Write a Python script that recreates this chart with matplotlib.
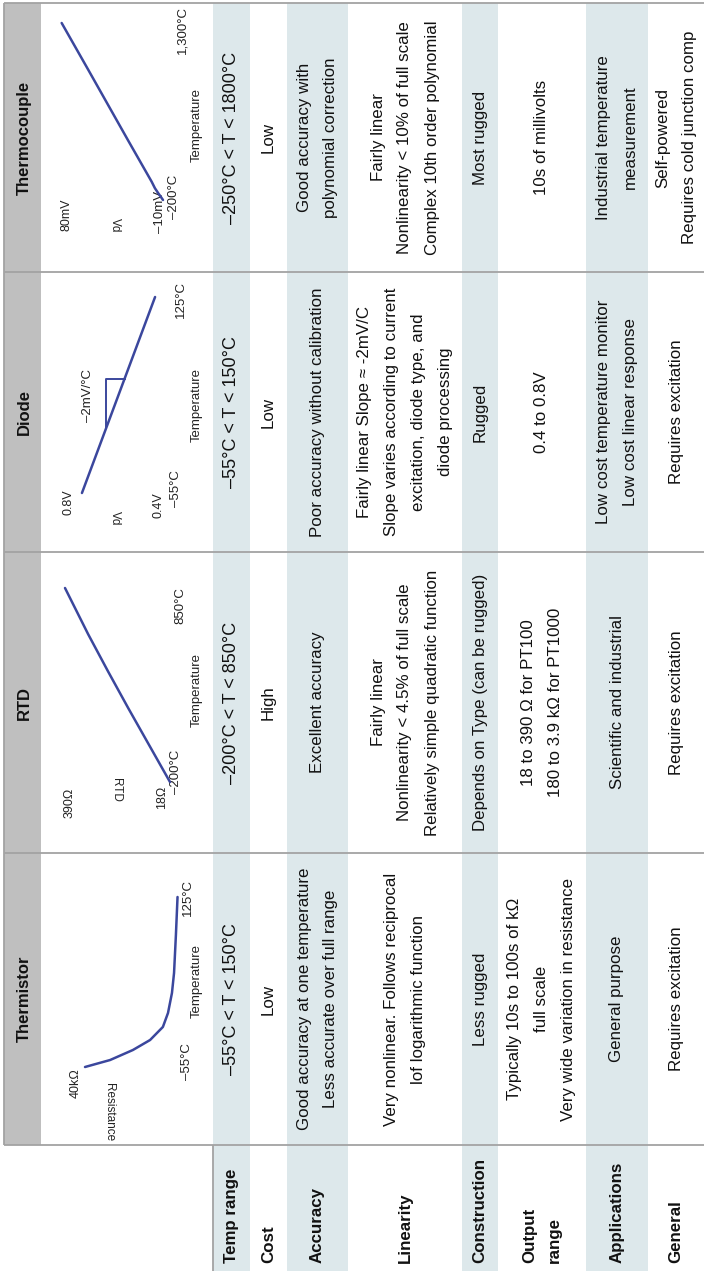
import matplotlib
matplotlib.use("Agg")
import matplotlib.pyplot as plt
from matplotlib.patches import Rectangle
import numpy as np

# ---------------- data ----------------
sensors = ["Thermistor", "RTD", "Diode", "Thermocouple"]
row_labels = ["Temp range", "Cost", "Accuracy", "Linearity", "Construction",
              "Output\nrange", "Applications", "General"]

temp_range = ["–55°C < T < 150°C", "–200°C < T < 850°C",
              "–55°C < T < 150°C", "–250°C < T < 1800°C"]
cost = ["Low", "High", "Low", "Low"]
accuracy = ["Good accuracy at one temperature\nLess accurate over full range",
            "Excellent accuracy",
            "Poor accuracy without calibration",
            "Good accuracy with\npolynomial correction"]
linearity = ["Very nonlinear. Follows reciprocal\nlof logarithmic function",
             "Fairly linear\nNonlinearity < 4.5% of full scale\nRelatively simple quadratic function",
             "Fairly linear Slope ≈ -2mV/C\nSlope varies according to current\nexcitation, diode type, and\ndiode processing",
             "Fairly linear\nNonlinearity < 10% of full scale\nComplex 10th order polynomial"]
construction = ["Less rugged", "Depends on Type (can be rugged)", "Rugged", "Most rugged"]
output_range = ["Typically 10s to 100s of kΩ\nfull scale\nVery wide variation in resistance",
                "18 to 390 Ω for PT100\n180 to 3.9 kΩ for PT1000",
                "0.4 to 0.8V",
                "10s of millivolts"]
applications = ["General purpose", "Scientific and industrial",
                "Low cost temperature monitor\nLow cost linear response",
                "Industrial temperature\nmeasurement"]
general = ["Requires excitation", "Requires excitation", "Requires excitation",
           "Self-powered\nRequires cold junction comp"]
table_rows = [temp_range, cost, accuracy, linearity, construction,
              output_range, applications, general]

# mini-graph curves
thermistor_temp = [-55, -47.6, -37, -26.4, -12.6, 2.2, 23.4, 44.6, 84.8, 125]
thermistor_res = [40, 29.2, 19.4, 12.0, 6.5, 4.3, 2.6, 1.7, 0.9, 0.2]   # kOhm

rtd_temp = [-200, 0, 200, 400, 600, 850]
rtd_res = [18, 92, 166, 238, 308, 390]                                   # Ohm

diode_temp = [-55, 125]
diode_vd = [0.738, 0.413]                                                # V
diode_slope_temp = [5, 50]

tc_temp = [-200, -175, -143, -100, -45, 300, 600, 900, 1300]
tc_mv = [-10, -8.2, -5.8, -2.8, 0.1, 20.8, 38.6, 56.4, 80.3]             # mV

# ---------------- layout ----------------
W, H = 704, 1271
BLUE_ROW = "#dde8eb"
GRAY_HDR = "#bfbfbf"
RULE = "#a3a3a3"
LINE = "#3b479d"
FONT = ["Liberation Sans", "DejaVu Sans"]

col_span = {"Thermistor": (853, 1145), "RTD": (552, 853),
            "Diode": (272, 552), "Thermocouple": (3, 272)}
label_col = (1145, 1271)
row_edges = [213, 250, 287, 348, 462, 498, 586, 648, 704]

fig = plt.figure(figsize=(W / 100, H / 100), dpi=100)
ax = fig.add_axes([0, 0, 1, 1])
ax.set_xlim(0, W)
ax.set_ylim(H, 0)
ax.axis("off")

# row bands
for i in range(len(row_labels)):
    if i % 2 == 0:
        ax.add_patch(Rectangle((row_edges[i], 3), row_edges[i + 1] - row_edges[i], H - 3,
                               facecolor=BLUE_ROW, edgecolor="none", zorder=0))
# header gray band
ax.add_patch(Rectangle((4, 3), 37, label_col[0] - 3, facecolor=GRAY_HDR,
                       edgecolor="none", zorder=0))

# rules
rk = dict(color=RULE, lw=1.3, zorder=1, solid_capstyle="butt")
ax.plot([4, W], [3, 3], **rk)
ax.plot([4, 4], [3, label_col[0]], **rk)
for s in sensors:
    ax.plot([4, W], [col_span[s][1], col_span[s][1]], **rk)
ax.plot([row_edges[0], row_edges[0]], [label_col[0], H], **rk)

PITCH = 27

def multiline(xc, yc, text, size, weight="normal", va="center", pitch=PITCH):
    lines = text.split("\n")
    n = len(lines)
    for k, ln in enumerate(lines):
        x = xc + (k - (n - 1) / 2) * pitch
        ax.text(x, yc, ln, rotation=90, ha="center", va=va, fontsize=size,
                fontweight=weight, family=FONT, color="#111111", zorder=3)

# header titles
for s in sensors:
    y0, y1 = col_span[s]
    ax.text(24, (y0 + y1) / 2, s, rotation=90, ha="center", va="center",
            fontsize=12, fontweight="bold", family=FONT, color="#111111", zorder=3)

# row labels
for i, lab in enumerate(row_labels):
    xc = (row_edges[i] + row_edges[i + 1]) / 2
    multiline(xc, 1263, lab, 12.2, weight="bold", va="bottom", pitch=25)

# cells
for i, row in enumerate(table_rows):
    xc = (row_edges[i] + row_edges[i + 1]) / 2
    size = 13 if i == 0 else 12.2
    for j, s in enumerate(sensors):
        y0, y1 = col_span[s]
        multiline(xc, (y0 + y1) / 2, row[j], size)

# ---------------- mini graphs ----------------
def inset(x_left, x_right, y_top, y_bottom, vlim, tlim):
    a = fig.add_axes([x_left / W, 1 - y_bottom / H,
                      (x_right - x_left) / W, (y_bottom - y_top) / H])
    a.set_xlim(*vlim)
    a.set_ylim(*tlim)
    a.axis("off")
    a.patch.set_alpha(0)
    return a

lk = dict(color=LINE, lw=1.8, clip_on=False, solid_capstyle="round",
          solid_joinstyle="round")

a1 = inset(85, 178, 897, 1067, (40, 0), (-55, 125))
a1.plot(thermistor_res, thermistor_temp, **lk)

a2 = inset(65, 170, 588, 782, (390, 18), (-200, 850))
a2.plot(rtd_res, rtd_temp, **lk)

a3 = inset(68, 158, 297, 493, (0.8, 0.4), (-55, 125))
a3.plot(diode_vd, diode_temp, **lk)
v1, v2 = np.interp(diode_slope_temp, diode_temp, diode_vd)
t1, t2 = diode_slope_temp
a3.plot([v1, v1, v2], [t1, t2, t2], color=LINE, lw=1.4, clip_on=False)

a4 = inset(62, 163, 23, 200, (80, -10), (-200, 1300))
a4.plot(tc_mv, tc_temp, **lk)

# graph annotations (x, y, text, rotation, size)
graph_labels = [
    (76, 1083, "40kΩ", 90, 9), (109, 1112, "Resistance", 270, 8.5),
    (187, 1062, "–55°C", 90, 9.5), (197, 981, "Temperature", 90, 9.5),
    (188, 898, "125°C", 90, 9.5),
    (70, 803, "390Ω", 90, 9), (116, 790, "RTD", 270, 8.5),
    (162, 797, "18Ω", 90, 9), (176, 772, "–200°C", 90, 9.5),
    (197, 690, "Temperature", 90, 9.5), (180, 606, "850°C", 90, 9.5),
    (68, 502, "0.8V", 90, 9), (115, 518, "Vd", 270, 8.5),
    (158, 505, "0.4V", 90, 9), (176, 489, "–55°C", 90, 9.5),
    (88, 396, "–2mV/°C", 90, 9.5), (197, 405, "Temperature", 90, 9.5),
    (181, 300, "125°C", 90, 9.5),
    (66, 215, "80mV", 90, 9), (115, 225, "Vd", 270, 8.5),
    (160, 212, "–10mV", 90, 9.5), (174, 197, "–200°C", 90, 9.5),
    (197, 125, "Temperature", 90, 9.5), (182, 30, "1,300°C", 90, 9.5),
]
for x, y, t, r, fs in graph_labels:
    ax.text(x, y, t, rotation=r, ha="center", va="center", fontsize=fs,
            family=FONT, color="#222222", zorder=3)

fig.savefig("out.png", dpi=100)
